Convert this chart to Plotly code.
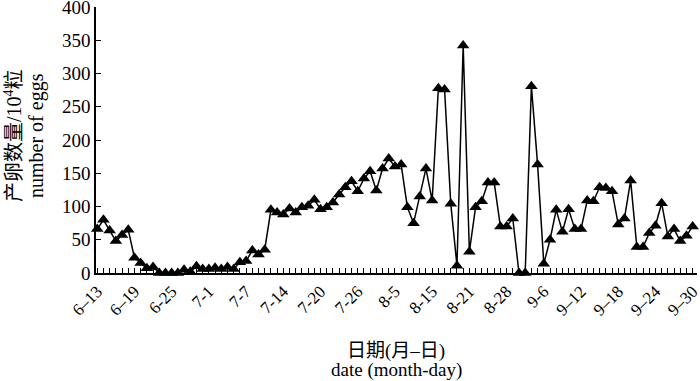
import plotly.graph_objects as go

# Daily egg counts (10^4 eggs), 97 sampling days from 6-13 to 9-30
eggs = [66, 80, 64, 48, 57, 65, 23, 15, 7, 9,
        0, 0, 0, 0, 5, 2, 10, 6, 6, 8,
        6, 9, 6, 16, 18, 34, 28, 35, 95, 91,
        88, 97, 91, 99, 101, 110, 96, 99, 106, 118,
        129, 138, 123, 142, 153, 124, 157, 172, 160, 163,
        99, 75, 115, 157, 109, 278, 276, 104, 11, 342,
        32, 99, 108, 136, 136, 70, 70, 82, 0, 0,
        281, 163, 14, 50, 95, 62, 96, 66, 66, 109,
        108, 129, 128, 123, 73, 82, 139, 39, 39, 60,
        71, 105, 55, 66, 48, 56, 70]

tick_labels = ["6–13", "6–19", "6-25", "7-1", "7-7", "7-14", "7-20", "7-26",
               "8-5", "8-15", "8-21", "8-28", "9-6", "9–12", "9–18", "9–24", "9–30"]
label_step = 6

x_idx = list(range(len(eggs)))
tick_vals = [i * label_step for i in range(len(tick_labels))]

FONT = "Liberation Serif, Times New Roman, Noto Sans CJK SC, serif"

fig = go.Figure()
fig.add_trace(go.Scatter(
    x=x_idx, y=eggs, mode="lines+markers",
    line=dict(color="black", width=1.5),
    marker=dict(symbol="triangle-up", size=11, color="black"),
    cliponaxis=False, showlegend=False,
))

L, R, T, B = 96, 3, 7, 108
fig.update_layout(
    width=700, height=381,
    margin=dict(l=L, r=R, t=T, b=B, autoexpand=False),
    paper_bgcolor="white", plot_bgcolor="white",
    font=dict(family=FONT, color="black"),
    xaxis=dict(
        range=[-0.2, 96.7], showgrid=False, zeroline=False,
        showline=True, linecolor="black", linewidth=1.5,
        tickmode="array", tickvals=tick_vals, ticktext=tick_labels,
        ticks="inside", ticklen=5, tickwidth=1, tickcolor="black",
        tickangle=-45, tickfont=dict(size=17, family=FONT),
        ticklabeloverflow="allow",
        minor=dict(dtick=1, ticks="inside", ticklen=5, tickwidth=1, tickcolor="black"),
    ),
    yaxis=dict(
        range=[0, 400], tickmode="array", tickvals=[0, 50, 100, 150, 200, 250, 300, 350, 400],
        showgrid=False, zeroline=False,
        showline=True, linecolor="black", linewidth=1.5,
        ticks="inside", ticklen=5, tickwidth=1, tickcolor="black",
        tickfont=dict(size=19, family=FONT),
        ticklabeloverflow="allow",
    ),
)

pw, ph = 700 - L - R, 381 - T - B
def ann(text, px, py, angle=0, size=20):
    fig.add_annotation(text=text, textangle=angle,
                       x=(px - L) / pw, y=1 - (py - T) / ph,
                       xref="paper", yref="paper", xanchor="center", yanchor="middle",
                       showarrow=False, font=dict(size=size, family=FONT))

ann("产卵数量/10<sup>4</sup>粒", 13, 136, angle=-90)
ann("number of eggs", 36, 136, angle=-90)
ann("日期(月–日)", 396, 351, size=19)
ann("date (month-day)", 396, 370, size=19)

fig.write_html("out.html", config={"displayModeBar": False},
               post_script="document.body.style.margin='0px';")
